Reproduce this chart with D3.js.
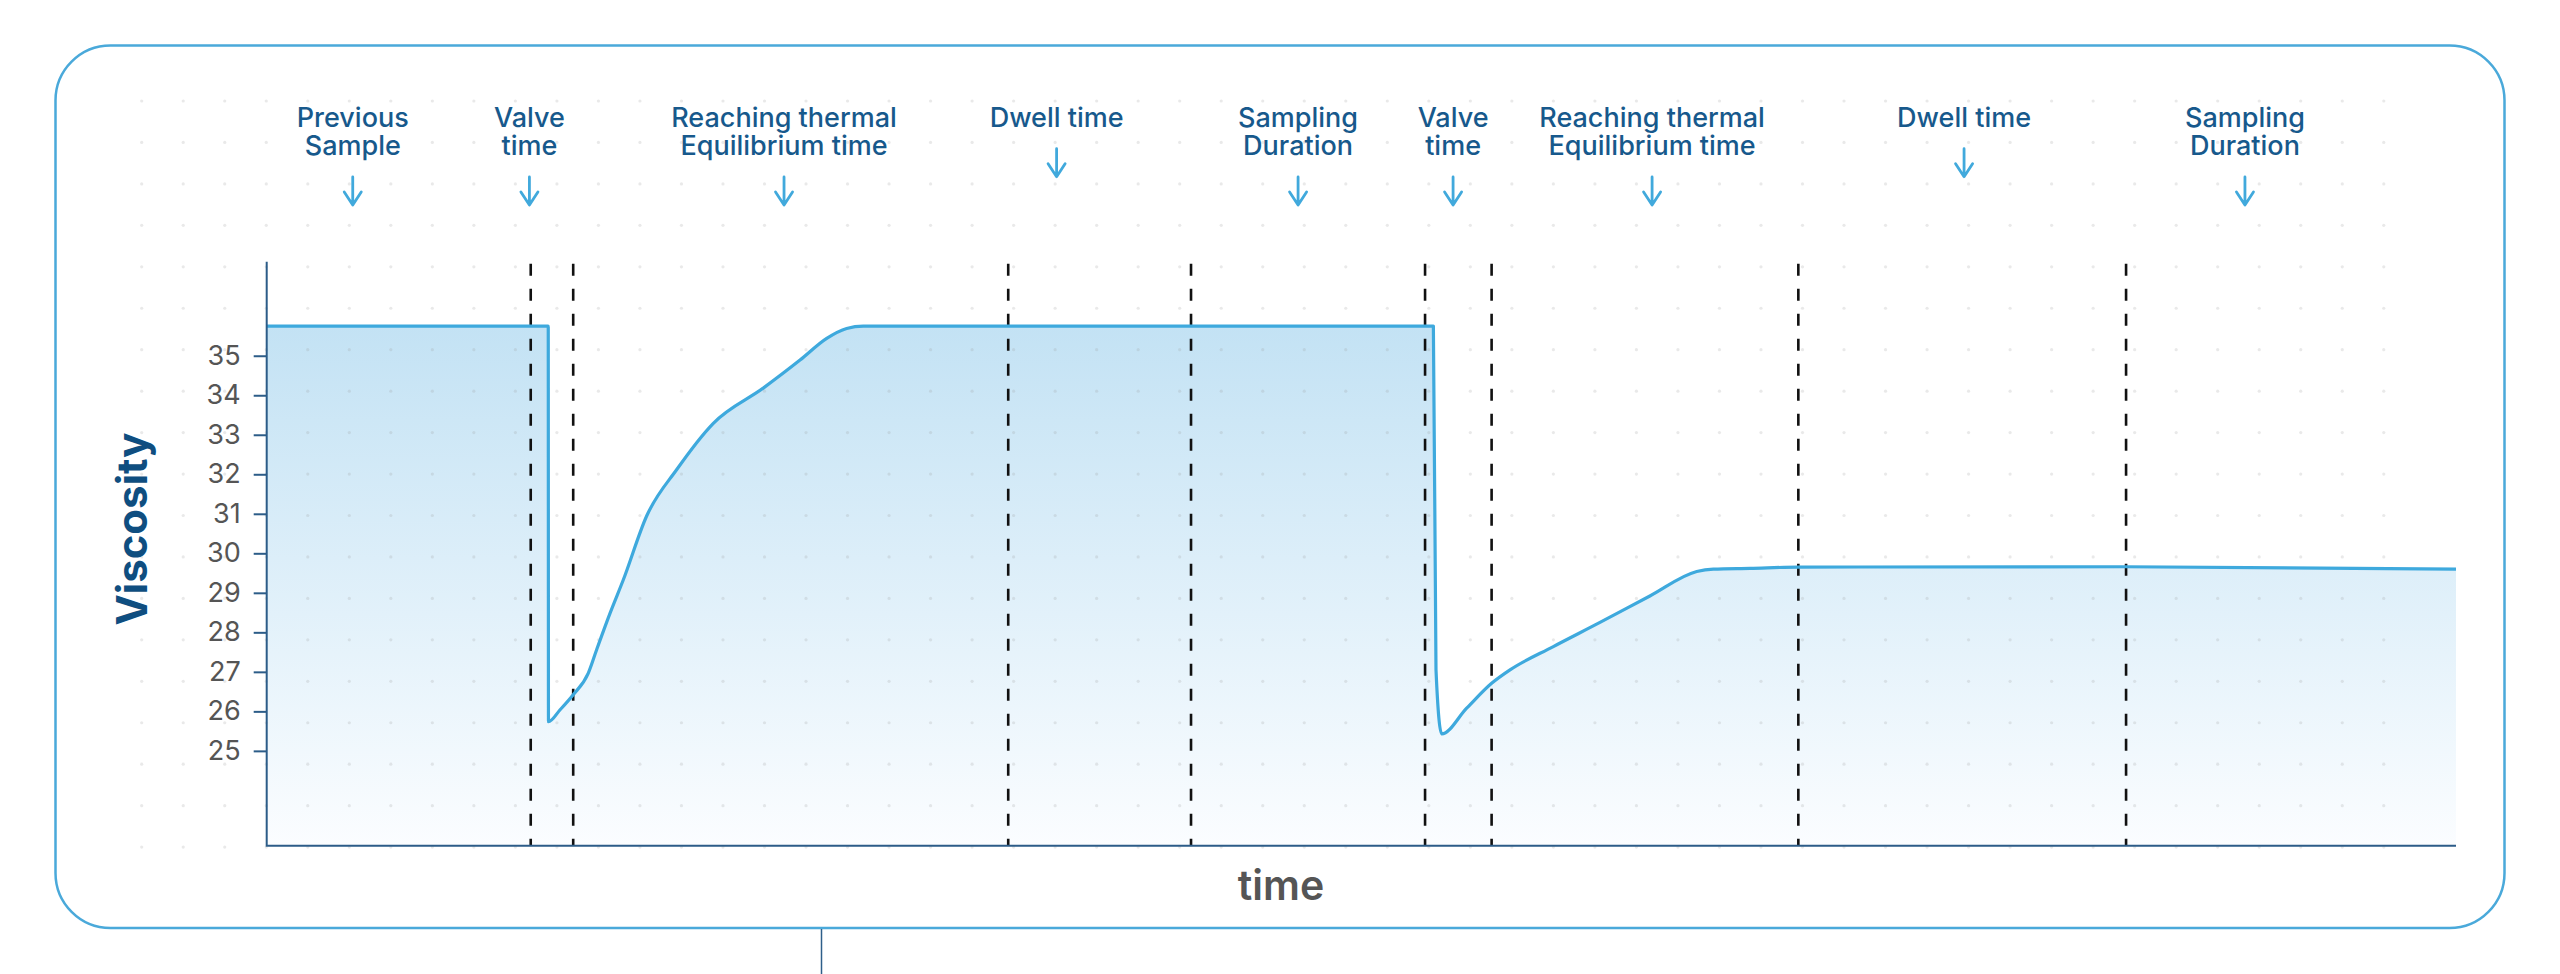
<!DOCTYPE html>
<html>
<head>
<meta charset="utf-8">
<script src="https://cdn.jsdelivr.net/npm/d3@7"></script>
<style>
  body { margin: 0; background: #fff; }
  svg { display: block; font-family: Inter, Roboto, sans-serif; }
</style>
</head>
<body>
<script>
// data (time in arbitrary units 0..100)
const timeVals = [0, 12.86, 12.87, 13.40, 14.00, 14.69, 15.07, 15.68, 16.29, 17.36, 18.73, 20.40, 22.68, 24.36, 25.58, 26.49, 27.25,
                  53.29, 53.41, 53.67, 54.81, 55.95, 56.79, 58.77, 60.90, 63.18, 65.32, 66.08, 67.75, 69.95, 84.92, 100];
const viscosity = [35.75, 35.75, 25.74, 26.04, 26.42, 26.97, 27.56, 28.48, 29.33, 30.95, 32.12, 33.29, 34.18, 34.89, 35.44, 35.69, 35.75,
                   35.75, 27.05, 25.43, 26.08, 26.71, 27.05, 27.64, 28.25, 28.92, 29.54, 29.60, 29.62, 29.65, 29.66, 29.60];
const yTicks = [25, 26, 27, 28, 29, 30, 31, 32, 33, 34, 35];
const markerTimes = [12.06, 14.00, 33.87, 42.22, 52.91, 55.95, 69.96, 84.93];
const phaseTimes = [3.93, 12.0, 23.63, 36.08, 47.11, 54.19, 63.28, 77.53, 90.36];
const phaseLabels = [
  ['Previous', 'Sample'],
  ['Valve', 'time'],
  ['Reaching thermal', 'Equilibrium time'],
  ['Dwell time'],
  ['Sampling', 'Duration'],
  ['Valve', 'time'],
  ['Reaching thermal', 'Equilibrium time'],
  ['Dwell time'],
  ['Sampling', 'Duration']
];

const W = 2560, H = 974;
const plotLeft = 266.7, plotRight = 2456, plotTop = 261.7, plotBottom = 845.7;

const svg = d3.select('body').append('svg')
  .attr('width', W).attr('height', H);

// outer rounded frame
svg.append('rect')
  .attr('x', 55.5).attr('y', 45.5)
  .attr('width', 2449).attr('height', 882.5)
  .attr('rx', 55).attr('ry', 55)
  .attr('fill', '#fff')
  .attr('stroke', '#4aa9da')
  .attr('stroke-width', 2.5);

// connector line below the frame
svg.append('line')
  .attr('x1', 821.5).attr('x2', 821.5)
  .attr('y1', 929).attr('y2', H)
  .attr('stroke', '#2f5f8a')
  .attr('stroke-width', 1.5);

const x = d3.scaleLinear().domain([0, 100]).range([plotLeft, plotRight]);
const y = d3.scaleLinear().domain([22.6, 37.38]).range([plotBottom, plotTop]);

const points = timeVals.map((t, i) => ({t: t, v: viscosity[i]}));

// gradient for the area
const defs = svg.append('defs');
const grad = defs.append('linearGradient')
  .attr('id', 'areaFill')
  .attr('gradientUnits', 'userSpaceOnUse')
  .attr('x1', 0).attr('x2', 0)
  .attr('y1', y(35.75)).attr('y2', plotBottom);
grad.append('stop').attr('offset', 0).attr('stop-color', '#c3e2f4');
grad.append('stop').attr('offset', 1).attr('stop-color', '#fbfdff');

const area = d3.area()
  .x(d => x(d.t))
  .y0(plotBottom)
  .y1(d => y(d.v))
  .curve(d3.curveMonotoneX);

svg.append('path')
  .datum(points)
  .attr('d', area)
  .attr('fill', 'url(#areaFill)');

// dot grid background
const dotG = svg.append('g').attr('class', 'dots');
for (let j = 0; j <= 18; j++) {
  for (let i = 0; i <= 54; i++) {
    dotG.append('circle')
      .attr('cx', 141.7 + i * 41.52)
      .attr('cy', 101 + j * 41.45)
      .attr('r', 1.6)
      .attr('fill', '#9a9a9a')
      .attr('fill-opacity', 0.22);
  }
}

// dashed phase markers
svg.append('g')
  .selectAll('line')
  .data(markerTimes)
  .join('line')
  .attr('x1', d => x(d)).attr('x2', d => x(d))
  .attr('y1', plotTop + 2).attr('y2', plotBottom)
  .attr('stroke', '#111')
  .attr('stroke-width', 2.6)
  .attr('stroke-dasharray', '12,13');

// viscosity line
const line = d3.line()
  .x(d => x(d.t))
  .y(d => y(d.v))
  .curve(d3.curveMonotoneX);

svg.append('path')
  .datum(points)
  .attr('d', line)
  .attr('fill', 'none')
  .attr('stroke', '#3ea9dd')
  .attr('stroke-width', 3.2)
  .attr('stroke-linejoin', 'round');

// axes
const yAxis = d3.axisLeft(y).tickValues(yTicks).tickSize(13).tickPadding(13);
const yG = svg.append('g')
  .attr('transform', `translate(${plotLeft},0)`)
  .call(yAxis);
yG.select('.domain').remove();
yG.selectAll('.tick line').attr('stroke', '#2c5c88').attr('stroke-width', 2);
yG.selectAll('.tick text')
  .attr('fill', '#555')
  .style('font-size', '27px')
  .style('font-family', 'Inter, Roboto, sans-serif');

svg.append('path')
  .attr('d', `M${plotLeft},${plotTop}V${plotBottom}H${plotRight}`)
  .attr('fill', 'none')
  .attr('stroke', '#2c5c88')
  .attr('stroke-width', 2);

// axis titles
svg.append('text')
  .attr('transform', `translate(147,529) rotate(-90)`)
  .attr('text-anchor', 'middle')
  .attr('fill', '#0f4e80')
  .style('font-size', '42px')
  .style('font-weight', 700)
  .text('Viscosity');

svg.append('text')
  .attr('x', 1281).attr('y', 900)
  .attr('text-anchor', 'middle')
  .attr('fill', '#555')
  .style('font-size', '41px')
  .style('font-weight', 600)
  .text('time');

// phase labels with arrows
const labelG = svg.append('g')
  .selectAll('g')
  .data(phaseLabels)
  .join('g')
  .attr('transform', (d, i) => `translate(${x(phaseTimes[i])},0)`);

labelG.each(function(lines) {
  const g = d3.select(this);
  lines.forEach((txt, k) => {
    g.append('text')
      .attr('x', 0).attr('y', 126.7 + k * 28.3)
      .attr('text-anchor', 'middle')
      .attr('fill', '#17598c')
      .style('font-size', '27px')
      .style('font-weight', 500)
      .text(txt);
  });
  const top = 126.7 + (lines.length - 1) * 28.3 + 22;
  g.append('path')
    .attr('d', `M0,${top}V${top + 28}M-8.5,${top + 15}L0,${top + 28}L8.5,${top + 15}`)
    .attr('fill', 'none')
    .attr('stroke', '#41a9dc')
    .attr('stroke-width', 2.8)
    .attr('stroke-linecap', 'round')
    .attr('stroke-linejoin', 'round');
});
</script>
</body>
</html>
